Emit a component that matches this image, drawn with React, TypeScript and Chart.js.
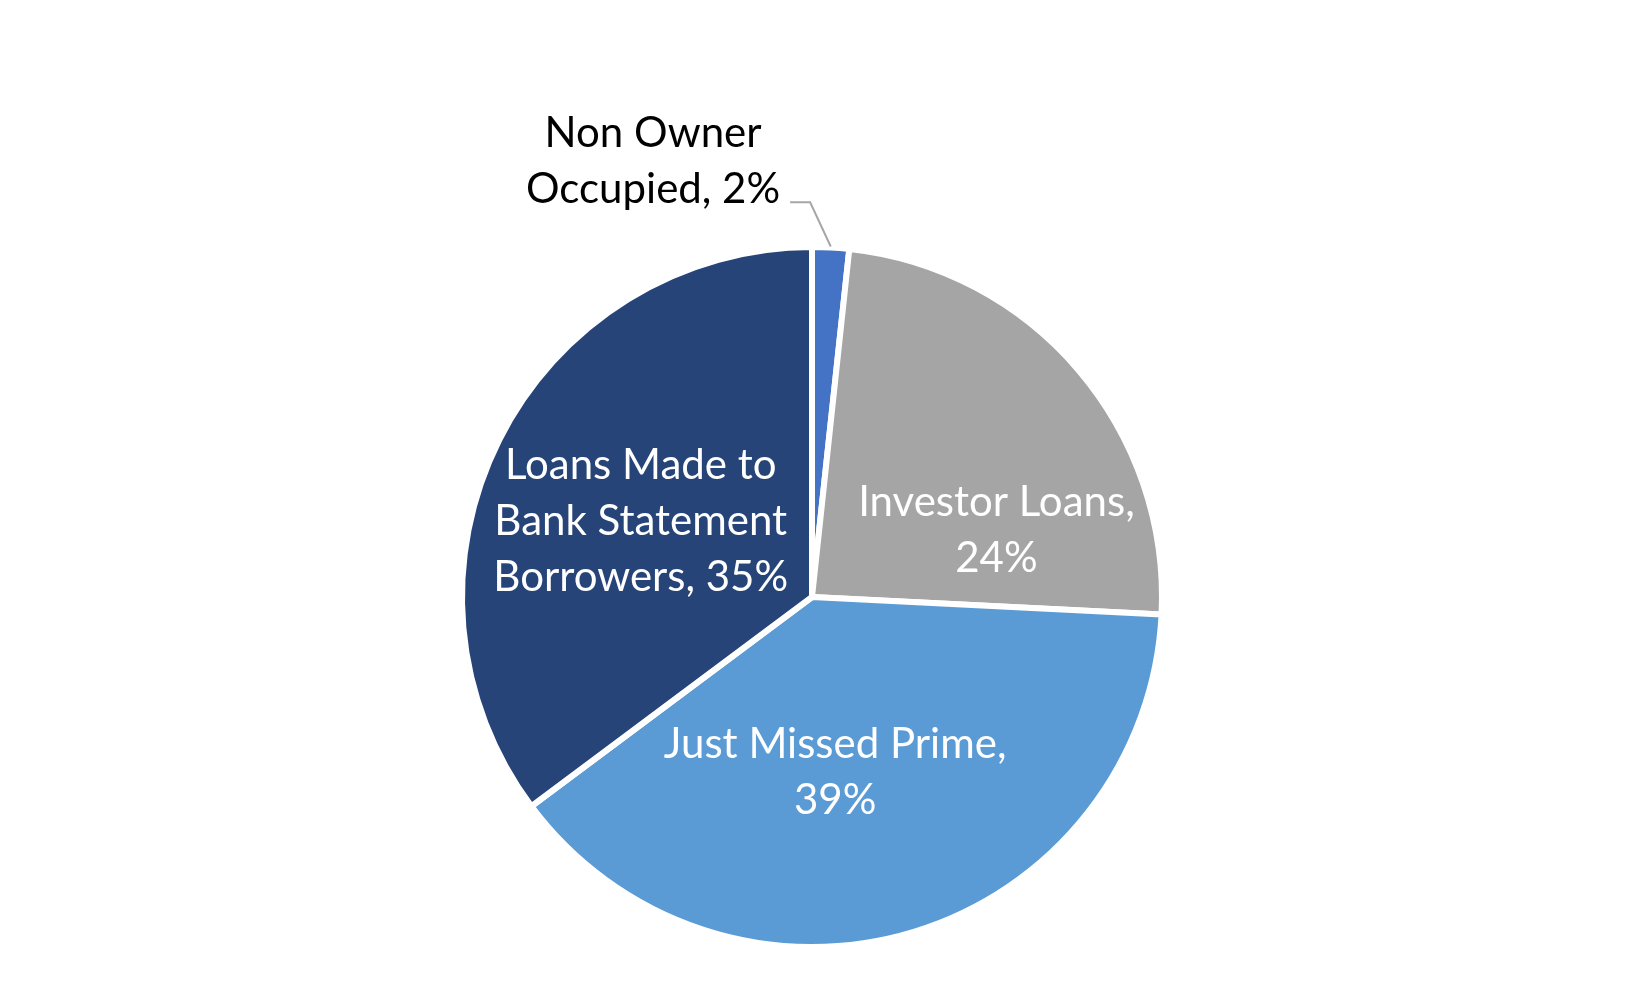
import { useEffect, useRef } from "react";
import { Chart, registerables } from "chart.js";

Chart.register(...registerables);

// Loan program mix (share of portfolio, %)
const categories = [
  "Non Owner Occupied",
  "Investor Loans",
  "Just Missed Prime",
  "Loans Made to Bank Statement Borrowers",
];
const shares = [1.7, 24.1, 39.0, 35.2];
// label text as it is wrapped in the picture
const labelLines = [
  ["Non Owner", "Occupied, 2%"],
  ["Investor Loans,", "24%"],
  ["Just Missed Prime,", "39%"],
  ["Loans Made to", "Bank Statement", "Borrowers, 35%"],
];

const sliceColors = ["#4472C4", "#A5A5A5", "#5B9BD5", "#264478"];
const labelColors = ["#000000", "#ffffff", "#ffffff", "#ffffff"];
// where each label sits: turn from the slice middle (deg) and distance (share of radius)
const labelPlacement = [
  { turn: -23.1, dist: 1.325 },
  { turn: 20.7, dist: 0.56 },
  { turn: 9.4, dist: 0.505 },
  { turn: -2.8, dist: 0.535 },
];

const FONT = "42px Lato, 'Open Sans', sans-serif";
const LINE_HEIGHT = 56;

const sliceLabels = {
  id: "sliceLabels",
  afterDatasetsDraw(chart: Chart) {
    const ctx = chart.ctx;
    const meta = chart.getDatasetMeta(0);
    ctx.save();
    ctx.font = FONT;
    ctx.textAlign = "center";
    ctx.textBaseline = "middle";
    meta.data.forEach((el: any, i: number) => {
      const { x, y, startAngle, endAngle, outerRadius } = el.getProps(
        ["x", "y", "startAngle", "endAngle", "outerRadius"],
        true
      );
      const mid = (startAngle + endAngle) / 2;
      const p = labelPlacement[i];
      const a = mid + (p.turn * Math.PI) / 180;
      const r = outerRadius * p.dist;
      const cx = x + Math.cos(a) * r;
      const cy = y + Math.sin(a) * r;
      const lines = labelLines[i];
      const top = cy - ((lines.length - 1) * LINE_HEIGHT) / 2;
      ctx.fillStyle = labelColors[i];
      lines.forEach((line, j) => ctx.fillText(line, cx, top + j * LINE_HEIGHT));

      // leader line for the label outside the pie
      if (p.dist > 1) {
        const last = lines[lines.length - 1];
        const right = cx + ctx.measureText(last).width / 2;
        const ly = top + (lines.length - 1) * LINE_HEIGHT + 13;
        const ex = x + Math.cos(mid) * (outerRadius + 1);
        const ey = y + Math.sin(mid) * (outerRadius + 1);
        ctx.strokeStyle = "#A6A6A6";
        ctx.lineWidth = 2;
        ctx.beginPath();
        ctx.moveTo(right + 10, ly);
        ctx.lineTo(right + 30, ly);
        ctx.lineTo(ex, ey);
        ctx.stroke();
      }
    });
    ctx.restore();
  },
};

function LoanMixPie() {
  const chartRef = useRef<HTMLCanvasElement>(null);
  const chartInstance = useRef<Chart | null>(null);

  useEffect(() => {
    if (!chartRef.current) return;
    if (chartInstance.current) chartInstance.current.destroy();
    const ctx = chartRef.current.getContext("2d");
    if (!ctx) return;

    chartInstance.current = new Chart(ctx, {
      type: "pie",
      data: {
        labels: categories,
        datasets: [
          {
            data: shares,
            backgroundColor: sliceColors,
            borderColor: "#ffffff",
            borderWidth: 6,
          },
        ],
      },
      options: {
        responsive: false,
        devicePixelRatio: 1,
        animation: false,
        layout: {
          padding: { left: 459, right: 485, top: 244, bottom: 40 },
        },
        plugins: {
          legend: { display: false },
          tooltip: { enabled: false },
        },
      },
      plugins: [sliceLabels],
    });

    return () => {
      if (chartInstance.current) {
        chartInstance.current.destroy();
        chartInstance.current = null;
      }
    };
  }, []);

  return <canvas ref={chartRef} width={1650} height={990} />;
}

export default function App() {
  return (
    <div
      style={{
        position: "absolute",
        left: 0,
        top: 0,
        width: 1650,
        height: 990,
        background: "#ffffff",
      }}
    >
      <LoanMixPie />
    </div>
  );
}
